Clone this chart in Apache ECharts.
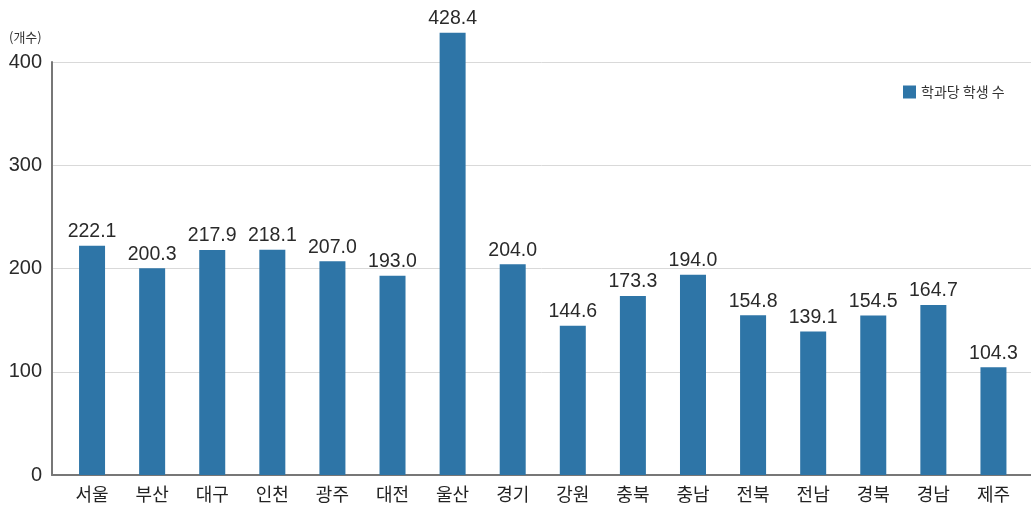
<!DOCTYPE html>
<html>
<head>
<meta charset="utf-8">
<script src="https://cdn.jsdelivr.net/npm/echarts@6/dist/echarts.min.js"></script>
<style>
html,body{margin:0;padding:0;background:#fff;}
#c{width:1031px;height:511px;}
</style>
</head>
<body>
<div id="c"></div>
<script>
const categories = ['서울','부산','대구','인천','광주','대전','울산','경기','강원','충북','충남','전북','전남','경북','경남','제주'];
const values = [222.1,200.3,217.9,218.1,207.0,193.0,428.4,204.0,144.6,173.3,194.0,154.8,139.1,154.5,164.7,104.3];
const seriesName = '학과당 학생 수';
const unitLabel = '(개수)';
const yTicks = [0,100,200,300,400];

const font = '"Noto Sans CJK KR", "Noto Sans", sans-serif';
const numFont = '"Liberation Sans", Arial, sans-serif';
const chart = echarts.init(document.getElementById('c'), null, {renderer:'canvas'});
chart.setOption({
  animation:false,
  backgroundColor:'#fff',
  textStyle:{fontFamily:font},
  grid:[
    {left:52, right:0, top:62, bottom:36},
    {left:62, right:7.5, top:62, bottom:36}
  ],
  legend:{
    data:[seriesName],
    left:898, top:80,
    icon:'rect', itemWidth:13, itemHeight:13, itemGap:9,
    textStyle:{fontSize:14, color:'#333', fontFamily:font}
  },
  graphic:[{
    type:'text', left:9, top:31,
    style:{text:unitLabel, fontSize:13, fill:'#333', fontFamily:font}
  }],
  xAxis:[
    {gridIndex:0, type:'category', data:categories, boundaryGap:true,
     axisLine:{show:true, lineStyle:{color:'#777', width:2}},
     axisTick:{show:false}, axisLabel:{show:false}, splitLine:{show:false}},
    {gridIndex:1, type:'category', data:categories, boundaryGap:true,
     axisLine:{show:false}, axisTick:{show:false},
     axisLabel:{fontSize:18, color:'#222', margin:10, fontFamily:font}}
  ],
  yAxis:[
    {gridIndex:0, type:'value', min:yTicks[0], max:yTicks[yTicks.length-1], interval:100,
     axisLine:{show:true, lineStyle:{color:'#777', width:2}},
     axisTick:{show:false},
     axisLabel:{fontSize:20, color:'#2a2a2a', margin:10, fontFamily:numFont},
     splitLine:{show:true, lineStyle:{color:'#d9d9d9', width:1}}},
    {gridIndex:1, type:'value', min:yTicks[0], max:yTicks[yTicks.length-1], interval:100,
     show:false, splitLine:{show:false}}
  ],
  series:[{
    name:seriesName, type:'bar', xAxisIndex:1, yAxisIndex:1,
    data:values, barWidth:26, clip:false,
    itemStyle:{color:'#2E75A7'},
    label:{show:true, position:'top', distance:4, fontSize:19.5, color:'#2a2a2a', fontFamily:numFont,
      formatter:p=>p.value.toFixed(1)}
  }]
});
</script>
</body>
</html>
